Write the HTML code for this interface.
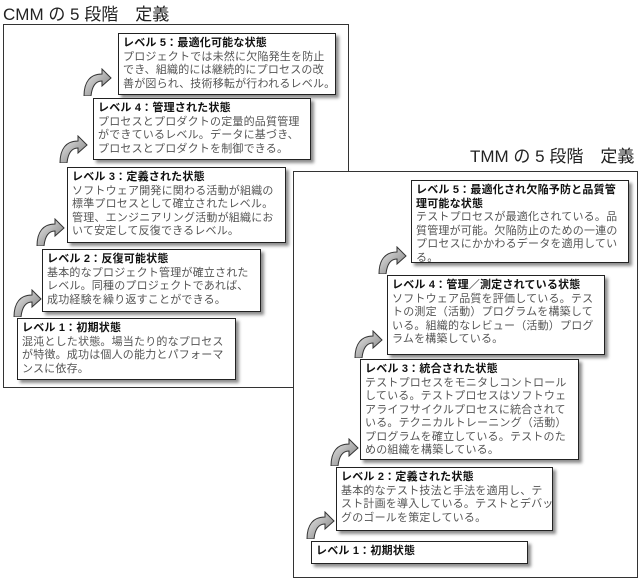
<!DOCTYPE html>
<html><head><meta charset="utf-8"><style>
body{margin:0;width:640px;height:578px;background:#fff;position:relative;overflow:hidden;font-family:"Liberation Sans","Noto Sans CJK JP",sans-serif}
.t{position:absolute;font-size:17px;color:#222;white-space:nowrap}
.f{position:absolute;border:1px solid #333;background:#fff}
.b{position:absolute;border:1px solid #222;background:#fff;box-shadow:3px 3px 3px rgba(0,0,0,.45);padding:3px 4px;box-sizing:border-box;font-size:11px;letter-spacing:0.2px;line-height:13.5px;color:#555;white-space:nowrap;overflow:hidden}
.b b{color:#111;display:block}
svg{position:absolute}
</style></head><body>
<div class="t" style="left:3px;top:0px">CMM の 5 段階　定義</div>
<div class="f" style="left:3px;top:24px;width:344px;height:362px"></div>
<div class="t" style="left:470px;top:142px">TMM の 5 段階　定義</div>
<div class="f" style="left:293px;top:171px;width:343px;height:405px"></div>

<svg width="0" height="0"><defs><linearGradient id="g" x1="0" y1="0" x2="1" y2="1"><stop offset="0" stop-color="#eee"/><stop offset="1" stop-color="#777"/></linearGradient>
<symbol id="a" viewBox="0 0 30 28"><path d="M2,28 C2,14 8,6 20,6 L20,1 L29,10 L20,18 L20,13 C14,13 10,18 9,28 Z" fill="url(#g)" stroke="#333" stroke-width="1"/></symbol></defs></svg>

<svg style="left:82px;top:68px" width="30" height="28"><use href="#a"/></svg>
<svg style="left:58px;top:135px" width="30" height="28"><use href="#a"/></svg>
<svg style="left:35px;top:218px" width="30" height="28"><use href="#a"/></svg>
<svg style="left:12px;top:289px" width="30" height="28"><use href="#a"/></svg>

<div class="b" style="left:118px;top:33px;width:218px;height:62px"><b>レベル 5：最適化可能な状態</b>プロジェクトでは未然に欠陥発生を防止<br>でき、組織的には継続的にプロセスの改<br>善が図られ、技術移転が行われるレベル。</div>
<div class="b" style="left:93px;top:98px;width:218px;height:62px"><b>レベル 4：管理された状態</b>プロセスとプロダクトの定量的品質管理<br>ができているレベル。データに基づき、<br>プロセスとプロダクトを制御できる。</div>
<div class="b" style="left:67px;top:167px;width:219px;height:76px"><b>レベル 3：定義された状態</b>ソフトウェア開発に関わる活動が組織の<br>標準プロセスとして確立されたレベル。<br>管理、エンジニアリング活動が組織にお<br>いて安定して反復できるレベル。</div>
<div class="b" style="left:42px;top:249px;width:219px;height:63px"><b>レベル 2：反復可能状態</b>基本的なプロジェクト管理が確立された<br>レベル。同種のプロジェクトであれば、<br>成功経験を繰り返すことができる。</div>
<div class="b" style="left:17px;top:318px;width:219px;height:62px"><b>レベル 1：初期状態</b>混沌とした状態。場当たり的なプロセス<br>が特徴。成功は個人の能力とパフォーマ<br>ンスに依存。</div>

<svg style="left:377px;top:246px" width="30" height="28"><use href="#a"/></svg>
<svg style="left:353px;top:330px" width="30" height="28"><use href="#a"/></svg>
<svg style="left:329px;top:438px" width="30" height="28"><use href="#a"/></svg>
<svg style="left:305px;top:511px" width="30" height="28"><use href="#a"/></svg>

<div class="b" style="left:411px;top:180px;width:218px;height:83px"><b>レベル 5：最適化され欠陥予防と品質管<br>理可能な状態</b>テストプロセスが最適化されている。品<br>質管理が可能。欠陥防止のための一連の<br>プロセスにかかわるデータを適用してい<br>る。</div>
<div class="b" style="left:387px;top:275px;width:218px;height:80px"><b>レベル 4：管理／測定されている状態</b>ソフトウェア品質を評価している。テス<br>トの測定（活動）プログラムを構築して<br>いる。組織的なレビュー（活動）プログ<br>ラムを構築している。</div>
<div class="b" style="left:360px;top:359px;width:219px;height:101px"><b>レベル 3：統合された状態</b>テストプロセスをモニタしコントロール<br>している。テストプロセスはソフトウェ<br>アライフサイクルプロセスに統合されて<br>いる。テクニカルトレーニング（活動）<br>プログラムを確立している。テストのた<br>めの組織を構築している。</div>
<div class="b" style="left:336px;top:467px;width:217px;height:64px"><b>レベル 2：定義された状態</b>基本的なテスト技法と手法を適用し、テ<br>スト計画を導入している。テストとデバッ<br>グのゴールを策定している。</div>
<div class="b" style="left:311px;top:541px;width:217px;height:23px"><b>レベル 1：初期状態</b></div>
</body></html>
